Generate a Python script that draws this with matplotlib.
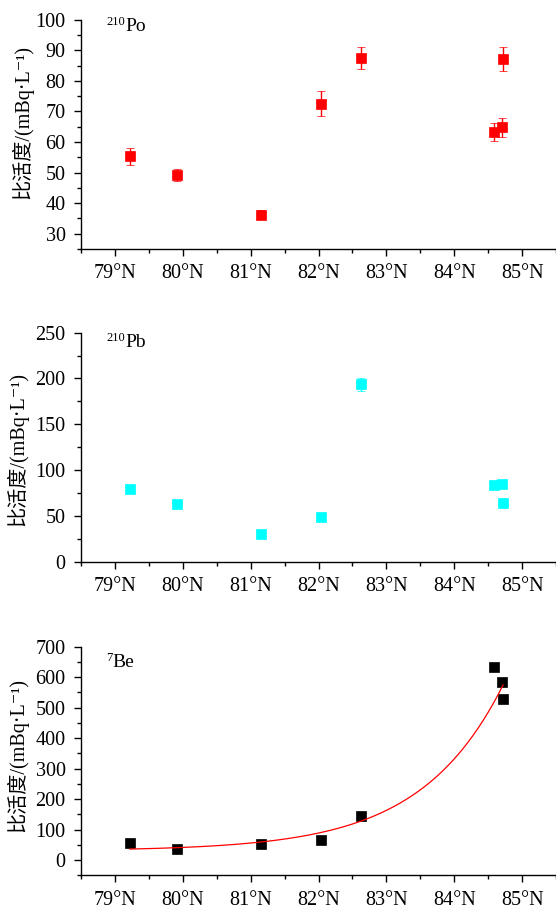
import numpy as np
import matplotlib
matplotlib.use("Agg")
import matplotlib.pyplot as plt
from matplotlib.ticker import MultipleLocator, FixedLocator, FixedFormatter
from matplotlib.transforms import offset_copy

plt.rcParams['font.family'] = ['Liberation Serif', 'Noto Sans CJK SC', 'DejaVu Sans']

# ---------------- data ----------------
po_x = [79.22, 79.92, 81.15, 82.03, 82.62, 84.58, 84.70, 84.72]
po210 = [55.3, 49.2, 36.2, 72.6, 87.5, 63.2, 64.8, 87.2]
po210_err = [2.7, 1.9, 1.5, 4.2, 3.5, 3.0, 3.0, 3.8]

pb_x = [79.22, 79.92, 81.15, 82.03, 82.62, 84.58, 84.70, 84.72]
pb210 = [79.0, 63.3, 30.2, 49.1, 193.6, 83.7, 84.4, 64.4]
pb210_err = [3.0, 2.5, 1.5, 2.0, 7.0, 3.0, 3.0, 3.0]

be_x = [79.22, 79.92, 81.15, 82.03, 82.62, 84.58, 84.70, 84.72]
be7 = [54.7, 35.0, 51.4, 65.6, 145.5, 634.0, 585.0, 529.0]

# exponential-growth fit of 7Be: y = y0 + A*exp(b*(x-79))
fit_y0 = 30.0
fit_A = 5.0
fit_b = 0.82

xtick_values = [79, 80, 81, 82, 83, 84, 85]
xtick_labels = ['79°N', '80°N', '81°N', '82°N', '83°N', '84°N', '85°N']

panel_mass = ['210', '210', '7']
panel_elem = ['Po', 'Pb', 'Be']
ylabel_text = '比活度/(mBq·L⁻¹)'

# ---------------- figure ----------------
fig = plt.figure(figsize=(5.56, 9.09), dpi=100)
left, width = 0.1457, 0.8543
ax1 = fig.add_axes([left, 0.7261, width, 0.2521])
ax2 = fig.add_axes([left, 0.3821, width, 0.2519])
ax3 = fig.add_axes([left, 0.0371, width, 0.2515])

FS = 14.5

def style(ax, ylim, major, minor, mass, elem, label_y, ylabel_x, ylabel_y):
    ax.set_xlim(78.5, 85.5)
    ax.set_ylim(*ylim)
    for s in ['top', 'right']:
        ax.spines[s].set_visible(False)
    for s in ['left', 'bottom']:
        ax.spines[s].set_linewidth(1.0)
    ax.xaxis.set_major_locator(FixedLocator(xtick_values))
    ax.xaxis.set_major_formatter(FixedFormatter(xtick_labels))
    ax.xaxis.set_minor_locator(MultipleLocator(0.5))
    ax.yaxis.set_major_locator(MultipleLocator(major))
    ax.yaxis.set_minor_locator(MultipleLocator(minor))
    ax.tick_params(which='major', direction='out', length=5, width=1.0,
                   labelsize=FS, pad=6)
    ax.tick_params(which='minor', direction='out', length=3, width=1.0)
    ax.tick_params(axis='x', which='major', pad=6)
    # isotope label: small superscript mass number + element symbol
    sup_fs = 9.0
    t_sup = offset_copy(ax.transAxes, fig=fig, x=0, y=4.2, units='points')
    ax.text(0.053, label_y, mass, transform=t_sup, fontsize=sup_fs,
            va='baseline', ha='left')
    adv = 0.5 * sup_fs * len(mass)
    t_el = offset_copy(ax.transAxes, fig=fig, x=adv, y=0, units='points')
    ax.text(0.053, label_y, elem, transform=t_el, fontsize=14,
            va='baseline', ha='left')
    ax.set_ylabel(ylabel_text, fontsize=FS)
    ax.yaxis.set_label_coords(ylabel_x, ylabel_y)

ax1.errorbar(po_x, po210, yerr=po210_err, fmt='s', color='#FF0000',
             ms=7.0, mew=0.5, elinewidth=1.0, capsize=3, capthick=1.0)
style(ax1, (25, 100), 10, 5, panel_mass[0], panel_elem[0], 0.952, -0.0996, 0.553)

ax2.errorbar(pb_x, pb210, yerr=pb210_err, fmt='s', color='#00FFFF',
             ms=7.4, mew=0.5, elinewidth=1.0, capsize=3, capthick=1.0)
style(ax2, (0, 250), 50, 25, panel_mass[1], panel_elem[1], 0.939, -0.111, 0.49)

fit_x = np.linspace(min(be_x), max(be_x), 300)
fit_y = fit_y0 + fit_A * np.exp(fit_b * (fit_x - 79.0))
ax3.plot(be_x, be7, 's', color='black', ms=7.2, mew=0.5)
ax3.plot(fit_x, fit_y, '-', color='#FF0000', lw=0.9)
style(ax3, (-50, 700), 100, 50, panel_mass[2], panel_elem[2], 0.91, -0.111, 0.526)

fig.savefig('out.png', dpi=100)
